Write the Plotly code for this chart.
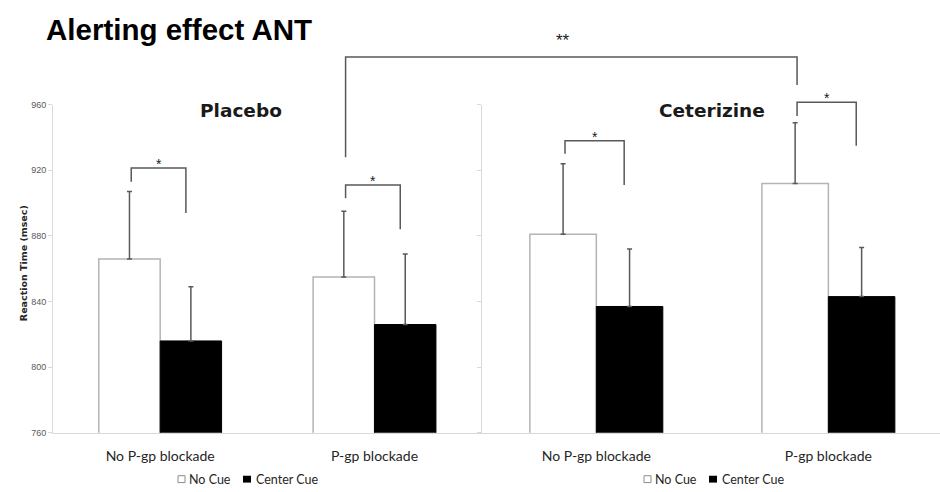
import plotly.graph_objects as go

# ---- data -------------------------------------------------------------
categories = ["No P-gp blockade", "P-gp blockade"]
series_names = ["No Cue", "Center Cue"]

placebo_no_cue = [866, 855]
placebo_no_cue_err = [41, 40]
placebo_center_cue = [816, 826]
placebo_center_cue_err = [33, 43]

cetirizine_no_cue = [881, 912]
cetirizine_no_cue_err = [43, 37]
cetirizine_center_cue = [837, 843]
cetirizine_center_cue_err = [35, 30]

y_ticks = [760, 800, 840, 880, 920, 960]

# ---- layout geometry ----------------------------------------------------
W, H = 940, 492
Y_RANGE = [760, 960]
Y_DOM = [0.1124, 0.7933]
X_DOMS = {"x": [53 / W, 481.7 / W], "x2": [481.7 / W, 1.0]}
X_RANGES = {"x": [-0.5, 1.5], "x2": [-0.494, 1.481]}

GRAY_LINE = "#d9d9d9"
ERR_COLOR = "#595959"
TEXT_DARK = "#262626"
LABEL_FONT = "Lato, 'Open Sans', sans-serif"


def y_paper(v):
    return Y_DOM[0] + (v - Y_RANGE[0]) / (Y_RANGE[1] - Y_RANGE[0]) * (Y_DOM[1] - Y_DOM[0])


def x_paper(axis, pos):
    dom, rng = X_DOMS[axis], X_RANGES[axis]
    return dom[0] + (pos - rng[0]) / (rng[1] - rng[0]) * (dom[1] - dom[0])


fig = go.Figure()

panels = [
    ("x", "y", placebo_no_cue, placebo_no_cue_err, placebo_center_cue, placebo_center_cue_err),
    ("x2", "y2", cetirizine_no_cue, cetirizine_no_cue_err, cetirizine_center_cue, cetirizine_center_cue_err),
]

for xa, ya, nc, nc_err, cc, cc_err in panels:
    fig.add_trace(go.Bar(
        x=categories, y=nc, name=series_names[0], xaxis=xa, yaxis=ya,
        offsetgroup="a", showlegend=False,
        marker=dict(color="white", line=dict(color="#b4b4b4", width=1.5)),
        error_y=dict(type="data", symmetric=False, array=nc_err, arrayminus=[0] * len(nc),
                     color=ERR_COLOR, thickness=1.5, width=2.5),
    ))
    fig.add_trace(go.Bar(
        x=categories, y=cc, name=series_names[1], xaxis=xa, yaxis=ya,
        offsetgroup="b", showlegend=False,
        marker=dict(color="black", line=dict(color="black", width=1)),
        error_y=dict(type="data", symmetric=False, array=cc_err, arrayminus=[0] * len(cc),
                     color=ERR_COLOR, thickness=1.5, width=2.5),
    ))

# ---- significance brackets ---------------------------------------------
# (axis, category index, left-leg bottom, bracket top, right-leg bottom, label)
brackets = [
    ("x", 0, 913, 921.4, 894, "*"),
    ("x", 1, 903, 911, 884, "*"),
    ("x2", 0, 930, 938, 911, "*"),
    ("x2", 1, 953, 961.4, 935, "*"),
]
LEG_L, LEG_R = -0.135, 0.12
shapes = []
annotations = []
line_style = dict(color="#595959", width=1.5)


def bracket_path(xl, yl, xr, yr, ytop):
    return f"M {xl} {yl} L {xl} {ytop} L {xr} {ytop} L {xr} {yr}"


for ax, ci, yl, yt, yr, lab in brackets:
    xl = x_paper(ax, ci + LEG_L)
    xr = x_paper(ax, ci + LEG_R)
    shapes.append(dict(type="path", xref="paper", yref="paper",
                       path=bracket_path(xl, y_paper(yl), xr, y_paper(yr), y_paper(yt)),
                       line=line_style))
    annotations.append(dict(text=lab, xref="paper", yref="paper",
                            x=(xl + xr) / 2, y=y_paper(yt) + 4 / H,
                            xanchor="center", yanchor="middle", showarrow=False,
                            font=dict(family="Liberation Sans", size=14, color="#1a1a1a")))

# bracket spanning both drug conditions (P-gp blockade, No Cue)
xl = x_paper("x", 1 + LEG_L)
xr = x_paper("x2", 1 + LEG_L)
shapes.append(dict(type="path", xref="paper", yref="paper",
                   path=bracket_path(xl, y_paper(928), xr, y_paper(972), y_paper(989)),
                   line=line_style))
annotations.append(dict(text="**", xref="paper", yref="paper",
                        x=(xl + xr) / 2 - 8 / W, y=y_paper(989) + 17 / H,
                        xanchor="center", yanchor="middle", showarrow=False,
                        font=dict(family="Liberation Sans", size=17, color="#1a1a1a")))

# ---- titles and labels --------------------------------------------------
annotations += [
    dict(text="<b>Alerting effect ANT</b>", xref="paper", yref="paper",
         x=44 / W, y=1 - 25 / H, xanchor="left", yanchor="middle", showarrow=False,
         font=dict(family="Liberation Sans", size=29.5, color="black")),
    dict(text="<b>Placebo</b>", xref="paper", yref="paper",
         x=241 / W, y=1 - 108 / H, xanchor="center", yanchor="middle", showarrow=False,
         font=dict(family="DejaVu Sans", size=18.5, color="#1a1a1a")),
    dict(text="<b>Ceterizine</b>", xref="paper", yref="paper",
         x=712 / W, y=1 - 107.5 / H, xanchor="center", yanchor="middle", showarrow=False,
         font=dict(family="DejaVu Sans", size=18.5, color="#1a1a1a")),
    dict(text="<b>Reaction Time (msec)</b>", xref="paper", yref="paper",
         x=23 / W, y=1 - 263.5 / H, xanchor="center", yanchor="middle", showarrow=False,
         textangle=-90, font=dict(family="DejaVu Sans", size=9.5, color=TEXT_DARK)),
]

# ---- legends under each panel ------------------------------------------
def add_legend(x0, yc=484):
    sq = 7
    y0, y1 = 1 - (yc + sq / 2) / H, 1 - (yc - sq / 2) / H
    shapes.append(dict(type="rect", xref="paper", yref="paper",
                       x0=x0 / W, x1=(x0 + sq) / W, y0=y0, y1=y1,
                       fillcolor="white", line=dict(color="#8c8c8c", width=1)))
    annotations.append(dict(text=series_names[0], xref="paper", yref="paper",
                            x=(x0 + 9) / W, y=1 - yc / H, xanchor="left", yanchor="middle",
                            showarrow=False, font=dict(family=LABEL_FONT, size=12.5, color=TEXT_DARK)))
    shapes.append(dict(type="rect", xref="paper", yref="paper",
                       x0=(x0 + 65) / W, x1=(x0 + 65 + sq + 1) / W, y0=y0, y1=y1,
                       fillcolor="black", line=dict(color="black", width=0)))
    annotations.append(dict(text=series_names[1], xref="paper", yref="paper",
                            x=(x0 + 76) / W, y=1 - yc / H, xanchor="left", yanchor="middle",
                            showarrow=False, font=dict(family=LABEL_FONT, size=12.5, color=TEXT_DARK)))


add_legend(178)
add_legend(644)

# ---- axes ---------------------------------------------------------------
xaxis_common = dict(type="category", showline=True, linecolor=GRAY_LINE, linewidth=1,
                    ticks="", showgrid=False, zeroline=False, fixedrange=True,
                    tickfont=dict(family=LABEL_FONT, size=14, color=TEXT_DARK),
                    ticklabelstandoff=10)
yaxis_common = dict(range=Y_RANGE, domain=Y_DOM, tickvals=y_ticks, ticks="outside",
                    ticklen=4, tickcolor=GRAY_LINE, showline=True, linecolor=GRAY_LINE,
                    linewidth=1, showgrid=False, zeroline=False,
                    tickfont=dict(family="Liberation Sans", size=9, color="#595959"))

fig.update_layout(
    width=W, height=H,
    margin=dict(l=0, r=0, t=0, b=0),
    paper_bgcolor="white", plot_bgcolor="white",
    barmode="group", bargap=0.427, bargroupgap=0,
    xaxis=dict(domain=X_DOMS["x"], range=X_RANGES["x"], anchor="y", **xaxis_common),
    xaxis2=dict(domain=X_DOMS["x2"], range=X_RANGES["x2"], anchor="y2", **xaxis_common),
    yaxis=dict(anchor="x", **yaxis_common),
    yaxis2=dict(anchor="x2", showticklabels=False, **yaxis_common),
    shapes=shapes,
    annotations=annotations,
)

fig.write_html("out.html")
